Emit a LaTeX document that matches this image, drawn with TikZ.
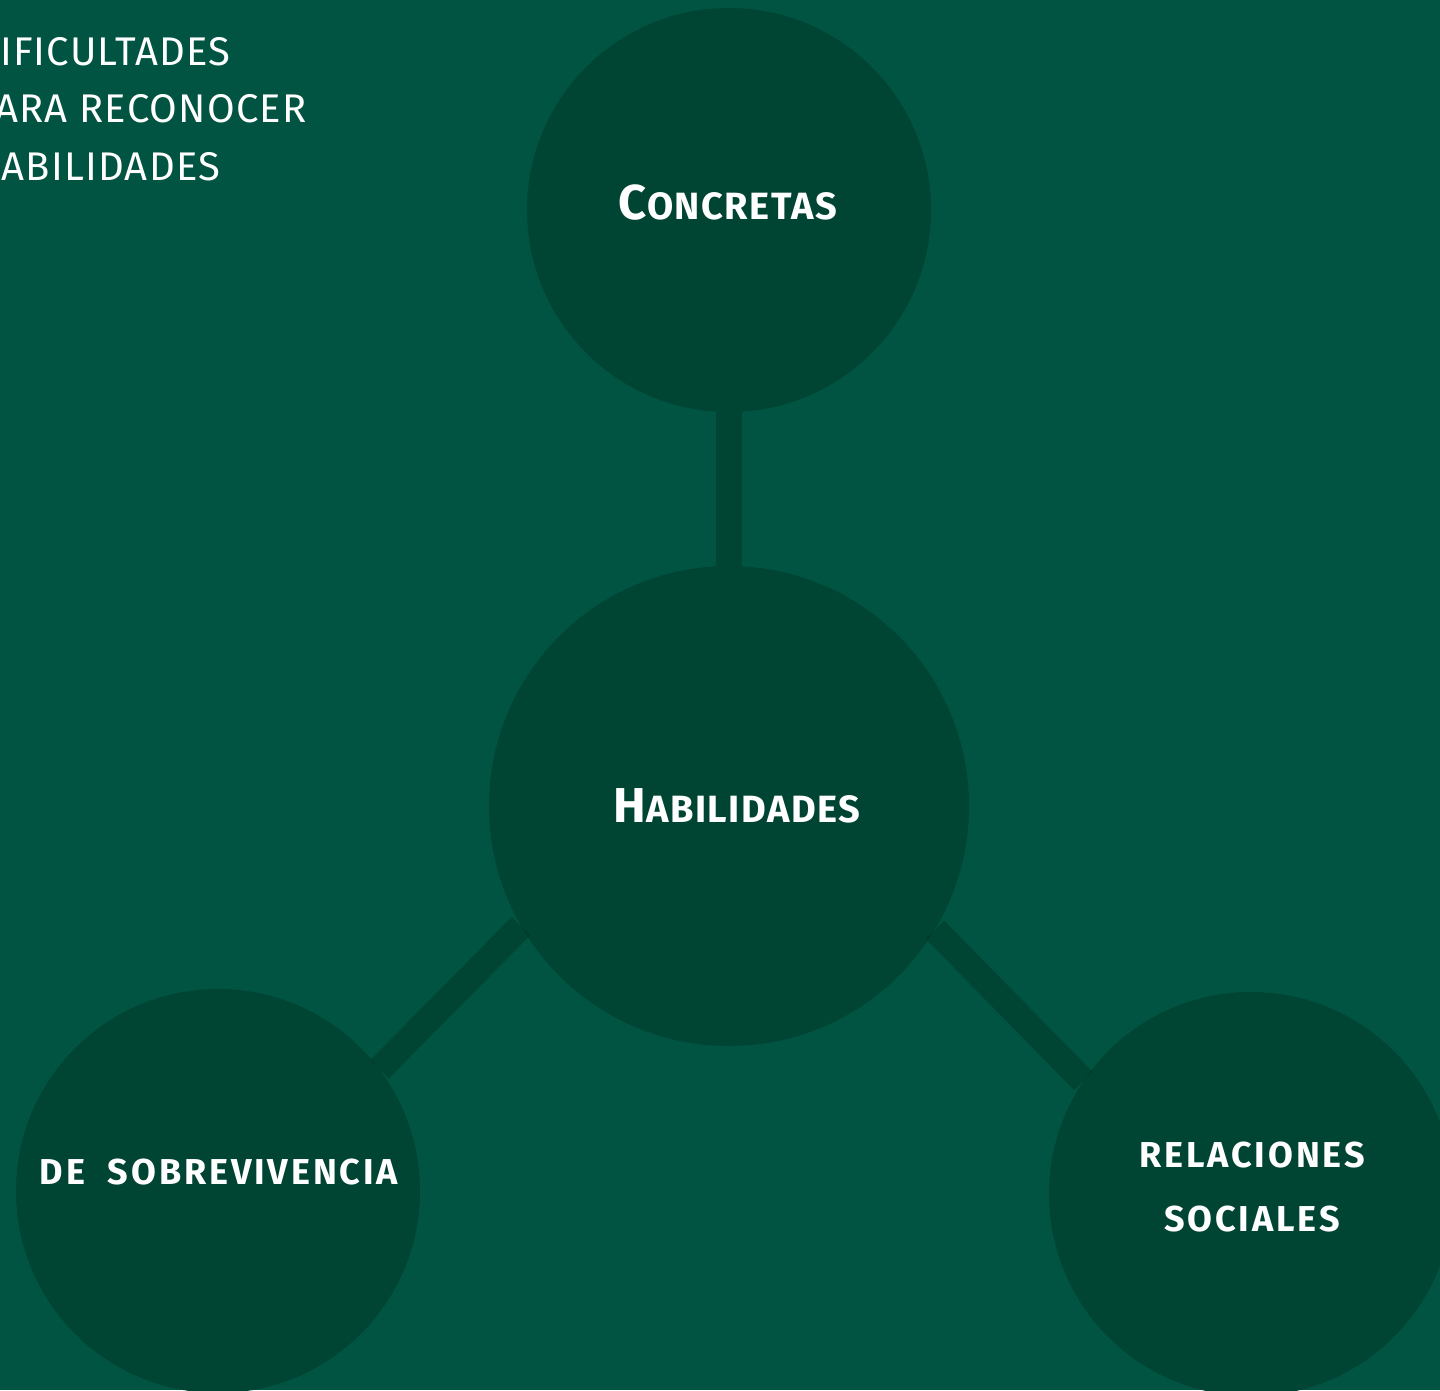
\documentclass[tikz,border=0pt]{standalone}
\usepackage{fontspec}
\setmainfont{Fira Sans}
\newfontfamily\toptext[LetterSpace=3]{Fira Sans}
\newfontfamily\circtext[LetterSpace=4]{Fira Sans}
\newfontfamily\captext[LetterSpace=8]{Fira Sans}
\definecolor{bgc}{RGB}{1,84,65}
\definecolor{circc}{RGB}{0,68,51}
\definecolor{linkc}{RGB}{0,47,30}
\tikzset{
  bubble/.style={circle, fill=circc, draw=none, inner sep=0pt},
  link/.style={draw=linkc, line width=26pt, draw opacity=0.38, line cap=butt},
  lbl/.style={text=white, inner sep=0pt, align=center, font=\circtext\bfseries},
  caplbl/.style={text=white, inner sep=0pt, align=center, font={\captext\bfseries\fontsize{36}{64}\selectfont}},
}
\begin{document}
\begin{tikzpicture}[x=1pt,y=-1pt]
\useasboundingbox (0,0) rectangle (1440,1390);
\clip (0,0) rectangle (1440,1390);
\fill[bgc] (0,0) rectangle (1440,1390);
\node[bubble, minimum size=404pt] (con) at (729,210) {};
\node[bubble, minimum size=480pt] (hab) at (729,806) {};
\node[bubble, minimum size=404pt] (sob) at (218,1191) {};
\node[bubble, minimum size=404pt] (rel) at (1251,1194) {};
\draw[link] (con.south) -- (hab.north);
\draw[link] (hab.210) -- (sob.37);
\draw[link] (hab.329) -- (rel.146);
\node[lbl] (tcon) at (728,203) {\fontsize{49}{50}\selectfont C\fontsize{38}{40}\selectfont ONCRETAS};
\node[lbl] (thab) at (737,806) {\fontsize{49}{50}\selectfont H\fontsize{38}{40}\selectfont ABILIDADES};
\node[caplbl] (tsob) at (219,1172) {DE\ \ SOBREVIVENCIA};
\node[caplbl] (trel) at (1252,1187) {RELACIONES\\SOCIALES};
\node[anchor=north west, inner sep=0pt, align=left, text=white, font={\toptext\fontsize{40}{57.5}\selectfont}] (ttl) at (-27,37)
  {DIFICULTADES\\PARA RECONOCER\\HABILIDADES};
\end{tikzpicture}
\end{document}
